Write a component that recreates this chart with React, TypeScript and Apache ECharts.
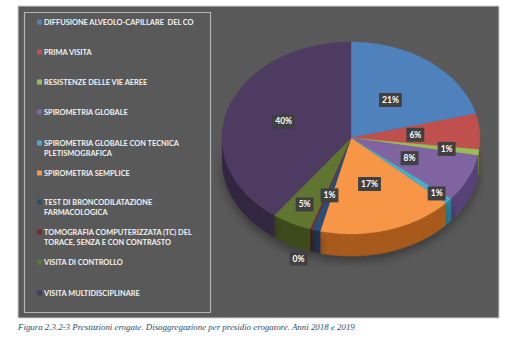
import React, { useEffect, useRef } from "react";
import * as echarts from "echarts";

const categories = [
  "DIFFUSIONE ALVEOLO-CAPILLARE  DEL CO",
  "PRIMA VISITA",
  "RESISTENZE DELLE VIE AEREE",
  "SPIROMETRIA GLOBALE",
  "SPIROMETRIA GLOBALE CON TECNICA\nPLETISMOGRAFICA",
  "SPIROMETRIA SEMPLICE",
  "TEST DI BRONCODILATAZIONE\nFARMACOLOGICA",
  "TOMOGRAFIA COMPUTERIZZATA (TC) DEL\nTORACE, SENZA E CON CONTRASTO",
  "VISITA DI CONTROLLO",
  "VISITA MULTIDISCIPLINARE",
];
const shares = [21, 6, 1, 8, 1, 17, 1, 0.3, 5, 40];
const caption =
  "Figura 2.3.2-3 Prestazioni erogate. Disaggregazione per presidio erogatore. Anni 2018 e 2019";

const topColors = [
  "#4F81BD", "#C0504D", "#9BBB59", "#8064A2", "#4BACC6",
  "#F79646", "#2C4D75", "#772C2A", "#5F7530", "#4D3B62",
];
const sideColors = [
  "#2f5a8e", "#8a2f2c", "#6b8a35", "#564277", "#2a7f96",
  "#a85a1c", "#1b3150", "#4e1b1a", "#3d4c1c", "#33273f",
];
// layout (not data)
const labelRadius = [0.5, 0.5, 0.75, 0.5, 0.88, 0.5, 0.62, 1.32, 0.78, 0.55];
const legendY = [22, 52, 82, 112, 143, 173, 202, 232, 262, 293];

const CX = 351, CY = 138, RX = 129, RY = 96, DEPTH = 22;

export default function App() {
  const ref = useRef<HTMLDivElement>(null);
  useEffect(() => {
    if (!ref.current) return;
    const chart = echarts.init(ref.current, undefined, { renderer: "svg" });
    const total = shares.reduce((a, b) => a + b, 0);
    const cum: number[] = [];
    let acc = 0;
    shares.forEach((v) => { cum.push(acc); acc += v; });
    const pt = (deg: number, dy = 0) => {
      const r = (deg * Math.PI) / 180;
      return [CX + RX * Math.sin(r), CY - RY * Math.cos(r) + dy];
    };
    const arc = (a: number, b: number, dy = 0) => {
      const pts: number[][] = [];
      const n = Math.max(2, Math.ceil((b - a) / 1));
      for (let k = 0; k <= n; k++) pts.push(pt(a + ((b - a) * k) / n, dy));
      return pts;
    };

    const legendChildren: any[] = [];
    categories.forEach((c, i) => {
      legendChildren.push({
        type: "rect",
        shape: { x: 37, y: legendY[i] - 2.5, width: 5, height: 5 },
        style: { fill: topColors[i] },
      });
      legendChildren.push({
        type: "text",
        x: 44,
        y: legendY[i] - 5,
        style: {
          text: c,
          fill: "#f2f2f2",
          font: "bold 7.4px Lato",
          lineHeight: 10.5,
          verticalAlign: "top",
        },
      });
    });

    chart.setOption({
      animation: false,
      graphic: [
        {
          type: "rect",
          shape: { x: 18, y: 6, width: 481, height: 312 },
          style: { fill: "#595959", stroke: "#d0d0d0", lineWidth: 1 },
          z: -10,
        },
        {
          type: "rect",
          shape: { x: 24.5, y: 12.5, width: 186, height: 300 },
          style: { fill: "none", stroke: "#b4b4b4", lineWidth: 1.2 },
        },
        ...legendChildren,
        {
          type: "text",
          x: 18,
          y: 327,
          style: {
            text: caption,
            fill: "#2b4a6f",
            font: "italic 8.9px 'Liberation Serif'",
            verticalAlign: "middle",
          },
        },
      ],
      series: [
        {
          type: "custom",
          coordinateSystem: "none",
          data: shares.map((v) => [v]),
          renderItem: (params: any, api: any) => {
            const i = params.dataIndex;
            const v = api.value(0);
            const a1 = (cum[i] / total) * 360;
            const a2 = ((cum[i] + v) / total) * 360;
            const children: any[] = [];
            children.push({
              type: "polygon",
              shape: { points: [[CX, CY], ...arc(a1, a2)] },
              style: { fill: topColors[i], stroke: topColors[i], lineWidth: 0.3 },
              z2: 10,
            });
            const s = Math.max(a1, 90), e = Math.min(a2, 270);
            if (e > s) {
              const upper = arc(s, e);
              const lower = arc(s, e, DEPTH).reverse();
              children.push({
                type: "polygon",
                shape: { points: [...upper, ...lower] },
                style: {
                  fill: sideColors[i],
                  stroke: sideColors[i],
                  lineWidth: 0.3,
                  shadowBlur: 10,
                  shadowColor: "rgba(0,0,0,0.35)",
                  shadowOffsetY: 5,
                },
                z2: 0,
              });
            }
            const mid = (a1 + a2) / 2;
            const f = labelRadius[i];
            const r = (mid * Math.PI) / 180;
            const lx = CX + RX * f * Math.sin(r);
            const ly = CY - RY * f * Math.cos(r);
            children.push({
              type: "text",
              x: lx,
              y: ly,
              style: {
                text: Math.round((v / total) * 100) + "%",
                fill: "#ffffff",
                font: "bold 8.5px Lato",
                align: "center",
                verticalAlign: "middle",
                backgroundColor: "#404040",
                padding: [3, 3, 2, 3],
                boxShadowBlur: 3,
                boxShadowColor: "rgba(0,0,0,0.5)",
                boxShadowOffsetX: 1,
                boxShadowOffsetY: 1,
              },
              z2: 20,
            });
            return { type: "group", children };
          },
        },
      ],
    });
    return () => chart.dispose();
  }, []);
  return (
    <div
      ref={ref}
      style={{ position: "absolute", left: 0, top: 0, width: 531, height: 356, background: "#ffffff" }}
    />
  );
}
